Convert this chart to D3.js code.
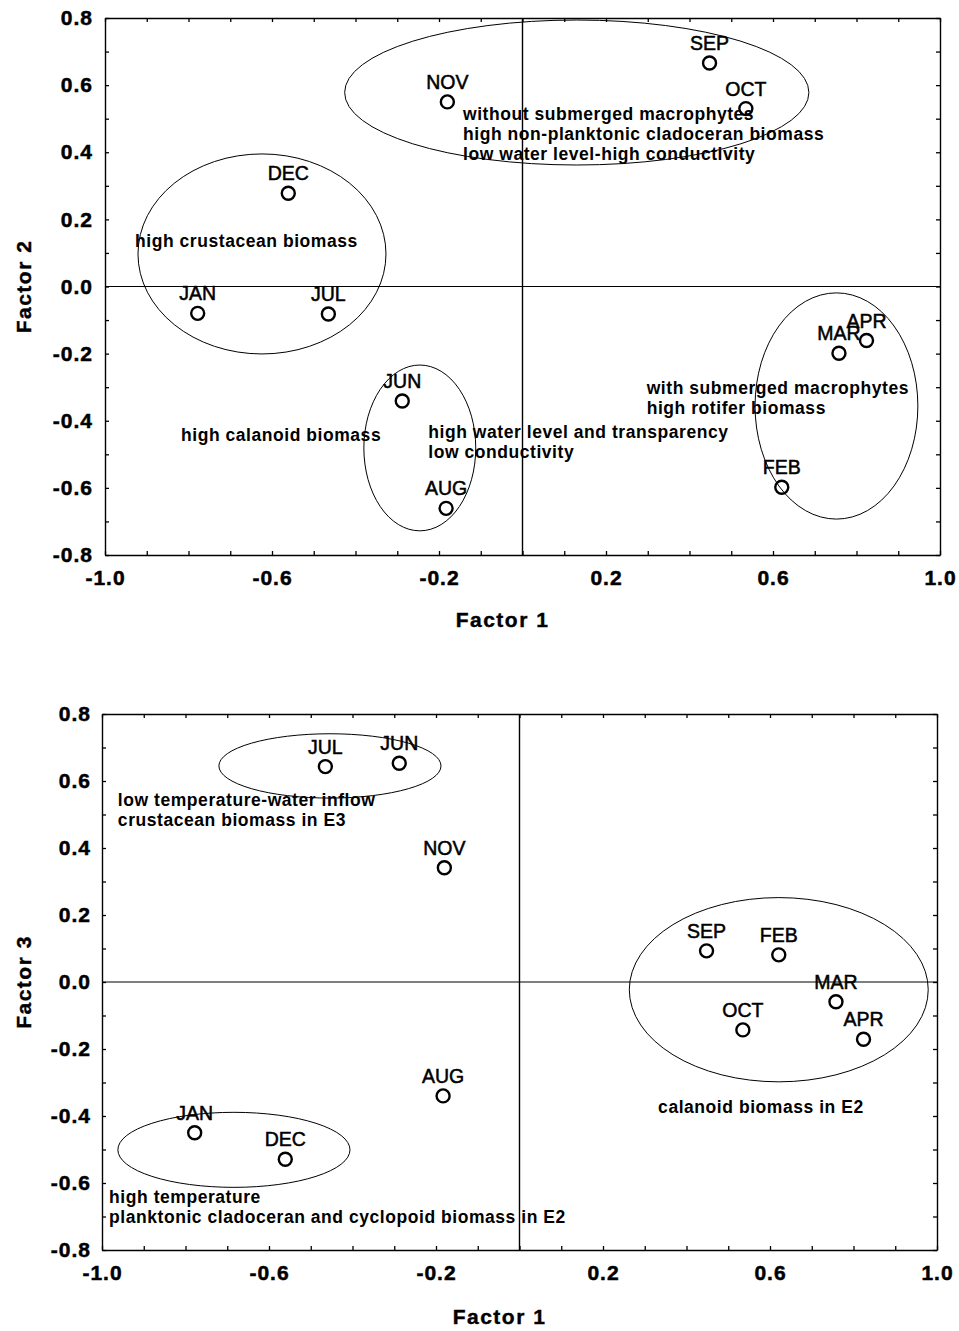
<!DOCTYPE html>
<html>
<head>
<meta charset="utf-8">
<script src="https://cdn.jsdelivr.net/npm/d3@7"></script>
<style>
  body { margin: 0; background: #fff; }
  svg { display: block; font-family: "Liberation Sans", Arial, sans-serif; }
  .tick line { stroke: #000; stroke-width: 1.3; }
  .domain { stroke: #000; stroke-width: 1.4; }
</style>
</head>
<body>
<svg id="chart" width="959" height="1331"></svg>
<script>
// months in the ordination (no MAY)
var months = ['JAN', 'FEB', 'MAR', 'APR', 'JUN', 'JUL', 'AUG', 'SEP', 'OCT', 'NOV', 'DEC'];
var factor1 = [-0.778, 0.621, 0.758, 0.824, -0.288, -0.465, -0.183, 0.448, 0.535, -0.180, -0.561];
var factor2 = [-0.080, -0.598, -0.199, -0.161, -0.341, -0.082, -0.661, 0.666, 0.530, 0.550, 0.278];
var factor3 = [-0.450, 0.081, -0.059, -0.171, 0.653, 0.643, -0.340, 0.093, -0.143, 0.341, -0.529];

var xLabelTicks = [-1.0, -0.6, -0.2, 0.2, 0.6, 1.0];
var yLabelTicks = [0.8, 0.6, 0.4, 0.2, 0.0, -0.2, -0.4, -0.6, -0.8];
var xMinorTicks = [-1.0, -0.9, -0.8, -0.7, -0.6, -0.5, -0.4, -0.3, -0.2, -0.1, 0.0, 0.1, 0.2, 0.3, 0.4, 0.5, 0.6, 0.7, 0.8, 0.9, 1.0];
var yMinorTicks = [-0.8, -0.7, -0.6, -0.5, -0.4, -0.3, -0.2, -0.1, 0.0, 0.1, 0.2, 0.3, 0.4, 0.5, 0.6, 0.7, 0.8];

// group ellipses, in factor units
var groups12 = [
  {cx: 0.130, cy: 0.578, rx: 0.556, ry: 0.216},
  {cx: -0.624, cy: 0.097, rx: 0.297, ry: 0.298},
  {cx: -0.246, cy: -0.481, rx: 0.134, ry: 0.247},
  {cx: 0.752, cy: -0.356, rx: 0.195, ry: 0.337}
];
var groups13 = [
  {cx: -0.454, cy: 0.645, rx: 0.266, ry: 0.096},
  {cx: -0.684, cy: -0.501, rx: 0.278, ry: 0.112},
  {cx: 0.621, cy: -0.023, rx: 0.358, ry: 0.275}
];

// annotation texts, anchored at first baseline (factor units)
var notes12 = [
  {x: -0.1425, y: 0.496, lines: ['without submerged macrophytes', 'high non-planktonic cladoceran biomass', 'low water level-high conductivity']},
  {x: -0.928, y: 0.119, lines: ['high crustacean biomass']},
  {x: -0.818, y: -0.460, lines: ['high calanoid biomass']},
  {x: -0.2256, y: -0.452, lines: ['high water level and transparency', 'low conductivity']},
  {x: 0.2975, y: -0.320, lines: ['with submerged macrophytes', 'high rotifer biomass']}
];
var notes13 = [
  {x: -0.962, y: 0.526, lines: ['low temperature-water inflow', 'crustacean biomass in E3']},
  {x: -0.983, y: -0.661, lines: ['high temperature', 'planktonic cladoceran and cyclopoid biomass in E2']},
  {x: 0.332, y: -0.390, lines: ['calanoid biomass in E2']}
];

var svg = d3.select('#chart');
var fmt = (d) => d.toFixed(1);

function drawPanel(opts) {
  var g = svg.append('g').attr('transform', 'translate(' + opts.left + ',' + opts.top + ')');
  var w = opts.width, h = opts.height;
  var x = d3.scaleLinear().domain([-1, 1]).range([0, w]);
  var y = d3.scaleLinear().domain([-0.8, 0.8]).range([h, 0]);

  // frame with small inward ticks on all sides
  g.append('g').attr('transform', 'translate(0,' + h + ')')
    .call(d3.axisBottom(x).tickValues(xMinorTicks).tickSize(-4).tickSizeOuter(0).tickFormat(''));
  g.append('g')
    .call(d3.axisTop(x).tickValues(xMinorTicks).tickSize(-4).tickSizeOuter(0).tickFormat(''));
  g.append('g')
    .call(d3.axisLeft(y).tickValues(yMinorTicks).tickSize(-4).tickSizeOuter(0).tickFormat(''));
  g.append('g').attr('transform', 'translate(' + w + ',0)')
    .call(d3.axisRight(y).tickValues(yMinorTicks).tickSize(-4).tickSizeOuter(0).tickFormat(''));

  // labelled ticks
  var xl = g.append('g').attr('transform', 'translate(0,' + h + ')')
    .call(d3.axisBottom(x).tickValues(xLabelTicks).tickSize(0).tickPadding(15).tickFormat(fmt));
  var yl = g.append('g')
    .call(d3.axisLeft(y).tickValues(yLabelTicks).tickSize(0).tickPadding(opts.yPad).tickFormat(fmt));
  [xl, yl].forEach(function(a) {
    a.select('.domain').remove();
    a.selectAll('text')
      .attr('fill', '#000')
      .attr('stroke', '#000')
      .attr('stroke-width', 0.5)
      .style('font-size', '21px')
      .style('font-weight', 'bold')
      .style('letter-spacing', '1px');
  });

  // zero lines
  g.append('line')
    .attr('x1', x(0)).attr('x2', x(0)).attr('y1', 0).attr('y2', h)
    .attr('stroke', '#000').attr('stroke-width', 1.4);
  g.append('line')
    .attr('x1', 0).attr('x2', w).attr('y1', y(0)).attr('y2', y(0))
    .attr('stroke', '#000').attr('stroke-width', 1.2);

  // group ellipses
  g.selectAll('ellipse')
    .data(opts.groups)
    .enter().append('ellipse')
    .attr('cx', (d) => x(d.cx))
    .attr('cy', (d) => y(d.cy))
    .attr('rx', (d) => x(d.cx + d.rx) - x(d.cx))
    .attr('ry', (d) => y(d.cy) - y(d.cy + d.ry))
    .attr('fill', 'none')
    .attr('stroke', '#000')
    .attr('stroke-width', 1);

  // annotation blocks
  var notes = g.selectAll('text.note')
    .data(opts.notes)
    .enter().append('text')
    .attr('class', 'note')
    .attr('x', (d) => x(d.x))
    .attr('y', (d) => y(d.y))
    .attr('fill', '#000')
    .style('font-size', '17.5px')
    .style('font-weight', 'bold')
    .style('letter-spacing', '0.55px');
  notes.selectAll('tspan')
    .data((d) => d.lines.map((l) => ({line: l, x: d.x})))
    .enter().append('tspan')
    .attr('x', (d) => x(d.x))
    .attr('dy', (d, i) => i === 0 ? 0 : 20)
    .text((d) => d.line);

  // month points
  var pts = months.map((m, i) => ({month: m, f1: factor1[i], fy: opts.yValues[i]}));
  g.selectAll('circle.pt')
    .data(pts)
    .enter().append('circle')
    .attr('class', 'pt')
    .attr('cx', (d) => x(d.f1))
    .attr('cy', (d) => y(d.fy))
    .attr('r', 6.5)
    .attr('fill', 'none')
    .attr('stroke', '#000')
    .attr('stroke-width', 2.4);
  g.selectAll('text.month')
    .data(pts)
    .enter().append('text')
    .attr('class', 'month')
    .attr('x', (d) => x(d.f1))
    .attr('y', (d) => y(d.fy) - 13)
    .attr('text-anchor', 'middle')
    .attr('fill', '#000')
    .attr('stroke', '#000')
    .attr('stroke-width', 0.5)
    .style('font-size', '19.5px')
    .text((d) => d.month);

  // axis titles
  g.append('text')
    .attr('x', w / 2 - 20)
    .attr('y', opts.xTitleY)
    .attr('text-anchor', 'middle')
    .attr('stroke', '#000')
    .attr('stroke-width', 0.4)
    .style('font-size', '21px')
    .style('font-weight', 'bold')
    .style('letter-spacing', '1.5px')
    .text('Factor 1');
  g.append('text')
    .attr('transform', 'translate(' + (31 - opts.left) + ',' + y(0) + ') rotate(-90)')
    .attr('text-anchor', 'middle')
    .attr('stroke', '#000')
    .attr('stroke-width', 0.4)
    .style('font-size', '21px')
    .style('font-weight', 'bold')
    .style('letter-spacing', '1.5px')
    .text(opts.yTitle);
}

drawPanel({left: 105, top: 18, width: 835, height: 537, yPad: 12,
  yValues: factor2, groups: groups12, notes: notes12, yTitle: 'Factor 2', xTitleY: 609});
drawPanel({left: 102, top: 714, width: 835, height: 536, yPad: 11,
  yValues: factor3, groups: groups13, notes: notes13, yTitle: 'Factor 3', xTitleY: 610});
</script>
</body>
</html>
